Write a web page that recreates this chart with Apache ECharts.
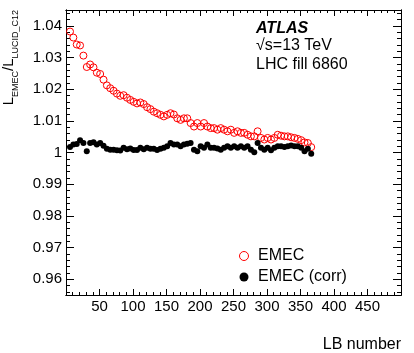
<!DOCTYPE html>
<html>
<head>
<meta charset="utf-8">
<script src="https://cdn.jsdelivr.net/npm/echarts@6.0.0/dist/echarts.min.js"></script>
<style>
    html, body { margin: 0; padding: 0; background: #fff; }
    #chart { width: 414px; height: 353px; }
</style>
</head>
<body>
<div id="chart"></div>
<script>
    // LB numbers of the measured points
    var lbNumbers = [
        6, 11, 16, 21, 26, 31, 36, 41, 46, 51,
        56, 61, 66, 71, 76, 81, 86, 91, 96, 101,
        106, 111, 116, 121, 126, 131, 136, 141, 146, 151,
        156, 161, 166, 171, 176, 181, 186, 191, 196, 201,
        206, 211, 216, 221, 226, 231, 236, 241, 246, 251,
        256, 261, 266, 271, 276, 281, 286, 291, 296, 301,
        306, 311, 316, 321, 326, 331, 336, 341, 346, 351,
        356, 361, 366
    ];
    // EMEC / LUCID_C12 ratio, raw
    var emecRatio = [
        1.0382, 1.0363, 1.0341, 1.0338, 1.0306, 1.0270, 1.0278, 1.0269, 1.0252, 1.0248,
        1.0230, 1.0212, 1.0203, 1.0195, 1.0186, 1.0179, 1.0181, 1.0173, 1.0166, 1.0160,
        1.0155, 1.0158, 1.0153, 1.0143, 1.0137, 1.0129, 1.0124, 1.0119, 1.0114, 1.0119,
        1.0124, 1.0120, 1.0108, 1.0103, 1.0108, 1.0108, 1.0093, 1.0082, 1.0093, 1.0082,
        1.0093, 1.0082, 1.0077, 1.0077, 1.0072, 1.0077, 1.0072, 1.0067, 1.0072, 1.0062,
        1.0067, 1.0062, 1.0062, 1.0056, 1.0051, 1.0051, 1.0067, 1.0046, 1.0041, 1.0046,
        1.0041, 1.0046, 1.0056, 1.0053, 1.0051, 1.0051, 1.0048, 1.0046, 1.0043, 1.0039,
        1.0032, 1.0030, 1.0017
    ];
    // EMEC / LUCID_C12 ratio, corrected
    var emecCorrRatio = [
        1.0017, 1.0025, 1.0027, 1.0039, 1.0030, 1.0004, 1.0030, 1.0032, 1.0025, 1.0030,
        1.0021, 1.0012, 1.0009, 1.0009, 1.0007, 1.0006, 1.0015, 1.0010, 1.0013, 1.0008,
        1.0008, 1.0015, 1.0010, 1.0015, 1.0012, 1.0012, 1.0008, 1.0012, 1.0015, 1.0020,
        1.0030, 1.0025, 1.0025, 1.0020, 1.0025, 1.0028, 1.0030, 1.0009, 1.0004, 1.0020,
        1.0015, 1.0025, 1.0015, 1.0015, 1.0013, 1.0009, 1.0015, 1.0020, 1.0015, 1.0020,
        1.0015, 1.0020, 1.0015, 1.0020, 1.0009, 1.0001, 1.0030, 1.0015, 1.0009, 1.0015,
        1.0007, 1.0015, 1.0020, 1.0020, 1.0017, 1.0020, 1.0022, 1.0020, 1.0020, 1.0015,
        1.0004, 1.0012, 0.9996
    ];
    var xTickLabels = [50, 100, 150, 200, 250, 300, 350, 400, 450];
    var yTickLabels = [0.96, 0.97, 0.98, 0.99, 1, 1.01, 1.02, 1.03, 1.04];

    var X_MIN = 0, X_MAX = 500;
    var Y_MIN = 0.955, Y_MAX = 1.045;
    var FONT = 'Liberation Sans';

    // minor tick positions
    var xMinor = [];
    for (var i = 10; i < X_MAX; i += 10) xMinor.push(i);
    var yMinor = [];
    for (var j = 956; j <= 1044; j += 2) yMinor.push(j / 1000);

    var toPairs = function (xs, ys) {
        return xs.map(function (x, k) { return [x, ys[k]]; });
    };

    var chart = echarts.init(document.getElementById('chart'));

    var xAxisBase = function (pos, major, len, labels) {
        return {
            type: 'value', position: pos, min: X_MIN, max: X_MAX,
            axisLine: { show: true, onZero: false, lineStyle: { color: '#000', width: 1 } },
            axisTick: { show: true, inside: true, length: len, customValues: major,
                lineStyle: { color: '#000', width: 1 } },
            axisLabel: labels ? { show: true, customValues: xTickLabels, margin: 4,
                color: '#000', fontFamily: FONT, fontSize: 15 } : { show: false },
            splitLine: { show: false }
        };
    };
    var yAxisBase = function (pos, major, len, labels) {
        return {
            type: 'value', position: pos, min: Y_MIN, max: Y_MAX, offset: 0,
            axisLine: { show: true, onZero: false, lineStyle: { color: '#000', width: 1 } },
            axisTick: { show: true, inside: true, length: len, customValues: major,
                lineStyle: { color: '#000', width: 1 } },
            axisLabel: labels ? { show: true, customValues: yTickLabels, margin: 4,
                color: '#000', fontFamily: FONT, fontSize: 15 } : { show: false },
            splitLine: { show: false }
        };
    };

    chart.setOption({
        animation: false,
        backgroundColor: '#fff',
        grid: { left: 66, right: 13, top: 10, bottom: 58 },
        xAxis: [
            xAxisBase('bottom', xTickLabels, 6, true),
            xAxisBase('bottom', xMinor, 3, false),
            xAxisBase('top', xTickLabels, 6, false),
            xAxisBase('top', xMinor, 3, false)
        ],
        yAxis: [
            yAxisBase('left', yTickLabels, 8, true),
            yAxisBase('left', yMinor, 4, false),
            yAxisBase('right', yTickLabels, 8, false),
            yAxisBase('right', yMinor, 4, false)
        ],
        legend: {
            orient: 'vertical',
            left: 234, top: 243,
            itemWidth: 18, itemHeight: 9, itemGap: 5,
            textStyle: { color: '#000', fontFamily: FONT, fontSize: 16 },
            data: [
                { name: 'EMEC', itemStyle: { borderWidth: 1, opacity: 1 } },
                { name: 'EMEC (corr)', itemStyle: { opacity: 1 } }
            ]
        },
        series: [
            {
                name: 'EMEC', type: 'scatter',
                symbol: 'circle', symbolSize: 7,
                itemStyle: { color: 'rgba(255,255,255,0)', borderColor: '#ff0000', borderWidth: 1, opacity: 1 },
                data: toPairs(lbNumbers, emecRatio)
            },
            {
                name: 'EMEC (corr)', type: 'scatter',
                symbol: 'circle', symbolSize: 6,
                itemStyle: { color: '#000', opacity: 1 },
                data: toPairs(lbNumbers, emecCorrRatio)
            }
        ],
        graphic: [
            {
                type: 'text', x: 256, y: 29,
                style: { text: 'ATLAS', font: 'italic bold 16px ' + FONT, fill: '#000',
                    verticalAlign: 'middle' }
            },
            {
                type: 'text', x: 256, y: 46,
                style: { text: '\u221As=13 TeV', font: '16px ' + FONT, fill: '#000',
                    verticalAlign: 'middle' }
            },
            {
                type: 'text', x: 256, y: 65,
                style: { text: 'LHC fill 6860', font: '16px ' + FONT, fill: '#000',
                    verticalAlign: 'middle' }
            },
            {
                type: 'text', x: 401, y: 345,
                style: { text: 'LB number', font: '16px ' + FONT, fill: '#000',
                    align: 'right', verticalAlign: 'middle' }
            },
            {
                type: 'text', x: 11, y: 10, rotation: Math.PI / 2,
                style: {
                    text: '{m|L}{s|EMEC}{m|/L}{s|LUCID_C12}',
                    align: 'right', verticalAlign: 'middle', fill: '#000',
                    rich: {
                        m: { fontFamily: FONT, fontSize: 15, padding: [0, 0, 4, 0], verticalAlign: 'bottom' },
                        s: { fontFamily: FONT, fontSize: 9, verticalAlign: 'bottom' }
                    }
                }
            }
        ]
    });
</script>
</body>
</html>
